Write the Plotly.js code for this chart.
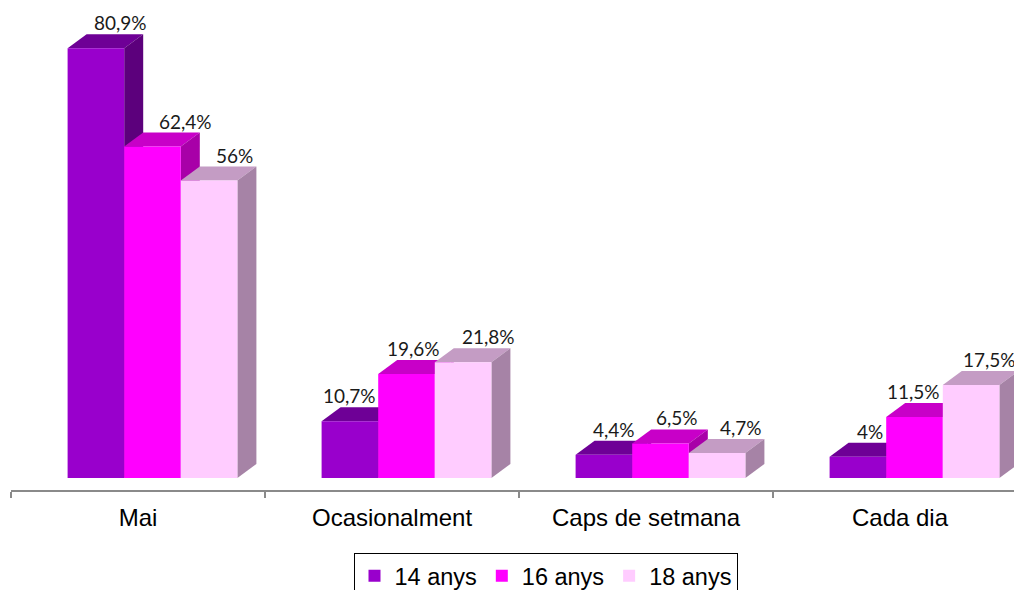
<!DOCTYPE html>
<html>
<head>
<meta charset="utf-8">
<script src="https://cdn.plot.ly/plotly-3.0.1.min.js"></script>
<style>html,body{margin:0;padding:0;background:#fff;}#chart{width:1014px;height:590px;}</style>
</head>
<body>
<div id="chart"></div>
<script>
// ---- data ----
const categories = ['Mai', 'Ocasionalment', 'Caps de setmana', 'Cada dia'];
const seriesNames = ['14 anys', '16 anys', '18 anys'];
const values14 = [80.9, 10.7, 4.4, 4.0];
const values16 = [62.4, 19.6, 6.5, 11.5];
const values18 = [56.0, 21.8, 4.7, 17.5];

// ---- style ----
const frontColors = ['#9900CC', '#FF00FF', '#FFCCFF'];
const topColors   = ['#6E0096', '#C800C8', '#C49CC4'];
const sideColors  = ['#5C007C', '#A800A8', '#A683A6'];
// horizontal pixel shift of each data label from its bar's front centre
const labelShift14 = [25, 0, 10, 12];
const labelShift16 = [33, 7, 16, -1];
const labelShift18 = [25, 25, 24, 18];

const W = 1014, H = 590;
const M = {l: 11, r: 0, t: 0, b: 100};
const plotW = W - M.l - M.r, plotH = H - M.t - M.b;
const catPx = 254;                 // pixels per category
const xRange = [-0.5, -0.5 + plotW / catPx];
const pxPerUnit = 5.311;           // pixels per percent
const zeroPx = 478;                // y pixel of value 0
const yRange = [-(plotH - zeroPx) / pxPerUnit, zeroPx / pxPerUnit];
const BW = 56.6 / catPx;           // bar width in category units
const DX = 19 / catPx;             // depth offset x (units)
const DY = 14 / pxPerUnit;         // depth offset y (units)

const allValues = [values14, values16, values18];
const allShifts = [labelShift14, labelShift16, labelShift18];
const offsets = [0, 1, 2].map(s => -0.5 + BW * (1.5 + s));
const fmt = v => String(v).replace('.', ',') + '%';

const traces = [];
const shapes = [];
const annotations = [];

categories.forEach((c, i) => {
  allValues.forEach((vals, s) => {
    const v = vals[i];
    const xc = i + offsets[s];
    const x0 = xc - BW / 2, x1 = xc + BW / 2;
    // top face
    shapes.push({
      type: 'path', xref: 'x', yref: 'y', layer: 'below',
      path: `M${x0},${v} L${x1},${v} L${x1 + DX},${v + DY} L${x0 + DX},${v + DY} Z`,
      fillcolor: topColors[s], line: {width: 0}
    });
    // side face
    shapes.push({
      type: 'path', xref: 'x', yref: 'y', layer: 'below',
      path: `M${x1},0 L${x1},${v} L${x1 + DX},${v + DY} L${x1 + DX},${DY} Z`,
      fillcolor: sideColors[s], line: {width: 0}
    });
    annotations.push({
      x: xc, y: v + DY, xref: 'x', yref: 'y',
      text: fmt(v), showarrow: false, xanchor: 'center', yanchor: 'bottom',
      yshift: -2, xshift: allShifts[s][i],
      font: {family: 'Lato, "Noto Sans", sans-serif', size: 19, color: '#1a1a1a'}
    });
  });
});

allValues.forEach((vals, s) => {
  traces.push({
    type: 'bar',
    name: seriesNames[s],
    x: categories.map((c, i) => i + offsets[s]),
    y: vals,
    width: categories.map(() => BW),
    marker: {color: frontColors[s], line: {width: 0}},
    hoverinfo: 'skip'
  });
});

const layout = {
  width: W, height: H,
  margin: {l: M.l, r: M.r, t: M.t, b: M.b, pad: 0, autoexpand: false},
  paper_bgcolor: '#ffffff', plot_bgcolor: '#ffffff',
  barmode: 'overlay',
  showlegend: true,
  xaxis: {
    range: xRange, showgrid: false, zeroline: false,
    tickmode: 'array', tickvals: categories.map((c, i) => i), ticktext: categories,
    ticks: '', ticklabelstandoff: 5,
    showline: true, linecolor: '#8a8a8a', linewidth: 2,
    tickfont: {family: '"Liberation Sans", Arial, sans-serif', size: 24, color: '#000'},
    minor: {tickmode: 'array', tickvals: [-0.5, 0.5, 1.5, 2.5, 3.5], ticks: 'outside',
            ticklen: 6, tickwidth: 2, tickcolor: '#8a8a8a', showgrid: false},
    fixedrange: true
  },
  yaxis: {range: yRange, visible: false, showgrid: false, zeroline: false, fixedrange: true},
  legend: {
    orientation: 'h', x: (545.5 - M.l) / plotW, xanchor: 'center',
    y: (plotH - 553) / plotH, yanchor: 'top',
    bordercolor: '#000', borderwidth: 1, bgcolor: '#fff',
    font: {family: '"Liberation Sans", Arial, sans-serif', size: 23.5, color: '#000'},
    traceorder: 'normal'
  },
  shapes: shapes,
  annotations: annotations
};

Plotly.newPlot('chart', traces, layout, {staticPlot: true, displayModeBar: false});
</script>
</body>
</html>
